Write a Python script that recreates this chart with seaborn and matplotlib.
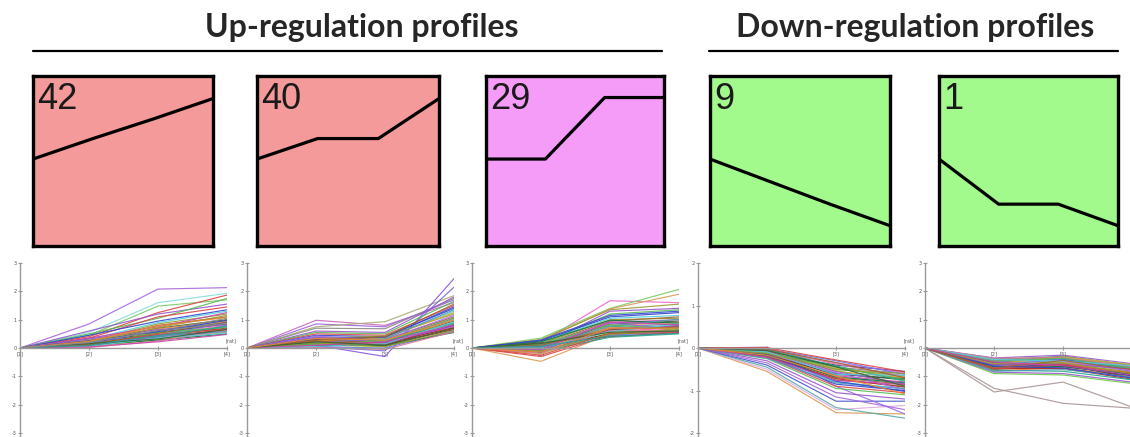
import matplotlib
matplotlib.use("Agg")
import matplotlib.pyplot as plt
from matplotlib.lines import Line2D
import pandas as pd
import seaborn as sns

# ---------------------------------------------------------------- data
group_titles = ["Up-regulation profiles", "Down-regulation profiles"]
profile_ids = ["42", "40", "29", "9", "1"]

# model profile of each cluster (4 time points)
model_42 = [0, 1, 1.95, 2.95]
model_40 = [0, 1, 1, 2.95]
model_29 = [0, 0, 3, 3]
model_9 = [0, -1.1, -2.2, -3.25]
model_1 = [0, -2.2, -2.2, -3.25]

time_labels = ["[1]", "[2]", "[3]", "[4]"]

# log ratios of member genes at time points 2..4 (time point 1 is 0)
genes_42 = [
    [0.85, 2.08, 2.13], [0.55, 1.60, 1.93], [0.45, 1.48, 1.70], [0.40, 1.25, 1.87],
    [0.60, 1.20, 1.55], [0.50, 1.05, 1.75], [0.35, 1.10, 1.45], [0.45, 0.95, 1.35],
    [0.30, 0.90, 1.30], [0.25, 0.85, 1.20], [0.20, 0.80, 1.10], [0.35, 0.75, 1.25],
    [0.15, 0.70, 1.00], [0.28, 0.68, 0.95], [0.10, 0.62, 0.90], [0.22, 0.60, 1.05],
    [0.18, 0.55, 0.85], [0.05, 0.50, 0.80], [0.30, 0.52, 0.75], [0.12, 0.45, 0.70],
    [0.25, 0.45, 0.90], [0.08, 0.40, 0.65], [0.15, 0.38, 0.78], [0.20, 0.35, 0.60],
    [0.05, 0.30, 0.55], [0.10, 0.28, 0.50], [0.02, 0.25, 0.62], [0.18, 0.42, 0.58],
    [0.32, 0.65, 0.82], [0.08, 0.55, 0.72], [0.14, 0.48, 0.68], [0.26, 0.58, 0.98],
    [0.06, 0.35, 0.52], [0.22, 0.72, 1.15], [0.12, 0.52, 0.92], [0.04, 0.22, 0.48],
    [0.16, 0.32, 0.66], [0.24, 0.78, 1.08], [0.09, 0.44, 0.76], [0.19, 0.62, 0.86],
]
genes_40 = [
    [0.98, 0.80, 1.60], [0.85, 0.75, 1.70], [0.75, 0.93, 1.85], [0.70, 0.68, 1.75],
    [0.10, -0.30, 2.45], [0.05, -0.10, 2.15], [0.60, 0.55, 1.80], [0.55, 0.50, 1.65],
    [0.50, 0.45, 1.50], [0.45, 0.40, 1.40], [0.40, 0.35, 1.30], [0.35, 0.42, 1.20],
    [0.30, 0.30, 1.10], [0.28, 0.25, 1.05], [0.25, 0.20, 0.95], [0.22, 0.28, 0.90],
    [0.20, 0.15, 0.85], [0.18, 0.22, 1.00], [0.15, 0.10, 0.80], [0.12, 0.18, 0.75],
    [0.10, 0.05, 0.70], [0.08, 0.12, 0.65], [0.05, 0.00, 0.60], [0.30, 0.18, 0.72],
    [0.35, 0.25, 0.88], [0.42, 0.30, 1.15], [0.26, 0.35, 1.25], [0.16, 0.08, 0.55],
    [0.02, -0.05, 0.58], [0.20, 0.32, 1.35], [0.38, 0.20, 0.78], [0.14, 0.26, 1.05],
    [0.24, 0.12, 0.68], [0.32, 0.38, 1.45], [0.06, 0.15, 0.92], [0.18, 0.05, 0.62],
    [0.28, 0.40, 1.55], [0.10, 0.22, 0.82], [0.22, 0.10, 0.70], [0.34, 0.28, 0.98],
]
genes_29 = [
    [0.20, 1.67, 1.60], [0.35, 1.40, 2.07], [0.25, 1.38, 1.90], [-0.47, 0.50, 0.80],
    [0.30, 1.35, 1.55], [0.10, 1.30, 1.40], [0.15, 1.20, 1.35], [-0.30, 0.45, 0.70],
    [0.25, 1.10, 1.25], [0.20, 1.05, 1.15], [0.15, 1.00, 1.05], [0.10, 0.95, 1.10],
    [0.05, 0.90, 1.00], [0.00, 0.85, 0.95], [-0.05, 0.80, 0.90], [-0.10, 0.75, 0.85],
    [0.12, 0.70, 0.80], [-0.15, 0.65, 0.75], [0.08, 0.60, 0.70], [-0.20, 0.55, 0.65],
    [0.02, 0.50, 0.62], [-0.08, 0.45, 0.58], [0.18, 0.40, 0.55], [-0.12, 0.38, 0.50],
    [0.06, 0.88, 0.68], [-0.02, 0.72, 0.72], [0.22, 0.98, 0.88], [-0.18, 0.62, 0.60],
    [0.04, 0.78, 1.02], [-0.06, 0.68, 0.78], [0.14, 0.82, 0.66], [-0.25, 0.52, 0.54],
    [0.28, 1.15, 1.30], [0.00, 0.58, 0.85], [-0.10, 0.48, 0.64], [0.10, 0.66, 0.74],
    [-0.04, 0.92, 0.82], [0.16, 0.56, 0.60], [-0.14, 0.70, 0.70], [0.06, 0.42, 0.52],
]
genes_9 = [
    [-0.55, -1.52, -1.55], [-0.50, -1.45, -1.35], [-0.45, -1.40, -1.65], [-0.40, -1.25, -1.25],
    [-0.35, -1.15, -1.45], [0.02, -0.90, -1.55], [-0.30, -1.05, -1.20], [-0.25, -0.95, -1.10],
    [-0.22, -0.90, -1.05], [-0.20, -0.85, -1.00], [-0.18, -0.80, -0.95], [-0.15, -0.75, -0.90],
    [-0.12, -0.70, -0.85], [-0.10, -0.65, -0.80], [-0.08, -0.60, -0.75], [-0.05, -0.55, -0.70],
    [-0.03, -0.50, -0.65], [0.00, -0.45, -0.60], [-0.14, -0.40, -0.55], [-0.06, -0.35, -0.58],
    [-0.10, -0.52, -0.88], [-0.16, -0.62, -0.72], [-0.02, -0.30, -0.62], [-0.20, -0.72, -0.92],
    [-0.04, -0.42, -0.78], [-0.12, -0.58, -0.98], [-0.08, -0.48, -0.68], [-0.18, -0.68, -0.82],
    [-0.01, -0.38, -0.66], [-0.24, -0.82, -0.96], [-0.07, -0.55, -0.85], [-0.11, -0.45, -0.74],
    [0.01, -0.28, -0.56], [-0.15, -0.78, -1.02], [-0.09, -0.62, -0.64], [-0.13, -0.50, -0.60],
    [-0.03, -0.34, -0.70], [-0.21, -0.76, -0.86], [-0.06, -0.44, -0.90], [-0.17, -0.66, -1.08],
]
genes_1 = [
    [-1.42, -1.95, -2.12], [-1.55, -1.20, -2.08], [-0.90, -0.95, -1.25], [-0.85, -0.90, -1.20],
    [-0.35, -0.25, -0.55], [-0.40, -0.30, -0.60], [-0.45, -0.35, -0.65], [-0.50, -0.40, -0.70],
    [-0.55, -0.45, -0.75], [-0.60, -0.50, -0.80], [-0.65, -0.55, -0.85], [-0.70, -0.60, -0.90],
    [-0.75, -0.65, -0.95], [-0.80, -0.70, -1.00], [-0.38, -0.42, -0.72], [-0.48, -0.28, -0.62],
    [-0.58, -0.62, -0.98], [-0.68, -0.48, -0.78], [-0.42, -0.52, -0.88], [-0.52, -0.58, -1.05],
    [-0.62, -0.38, -0.68], [-0.72, -0.72, -1.10], [-0.78, -0.82, -1.12], [-0.45, -0.44, -0.82],
    [-0.55, -0.32, -0.58], [-0.66, -0.66, -0.92], [-0.36, -0.34, -0.66], [-0.82, -0.76, -1.02],
    [-0.60, -0.56, -0.74], [-0.46, -0.36, -0.70], [-0.74, -0.58, -0.88], [-0.64, -0.70, -1.06],
    [-0.40, -0.46, -0.62], [-0.56, -0.52, -0.90], [-0.70, -0.44, -0.76], [-0.50, -0.62, -0.96],
]

models = [model_42, model_40, model_29, model_9, model_1]
gene_sets = [genes_42, genes_40, genes_29, genes_9, genes_1]
y_ranges = [3, 3, 3, 2, 3]

# ---------------------------------------------------------------- style
box_colors = ["#F59A9A", "#F59A9A", "#F59BF8", "#A3FA8C", "#A3FA8C"]
line_colors = [
    "#9955CC", "#55BB55", "#DD4444", "#3344CC", "#55CCDD", "#999933", "#996633",
    "#CC44AA", "#336633", "#EE8833", "#339999", "#888888", "#222288", "#EE66CC",
    "#AACC33", "#444444", "#6677EE", "#BB2222", "#22AA88", "#AA66EE", "#CCAA33",
    "#117744", "#DD7799", "#5599BB",
]
# first colours used in each gene panel
panel_lead_colors = [
    ["#AA66DD", "#88DDDD", "#77CC66", "#DD4444"],
    ["#CC66BB", "#9966DD", "#AAAA77", "#888888", "#8855DD", "#7766DD"],
    ["#EE66CC", "#77CC66", "#DD9955", "#DD9955", "#999933"],
    ["#DD9955", "#DDAADD", "#55AAAA", "#4455CC", "#AA66DD", "#9966EE"],
    ["#A89494", "#A89494", "#66CC44", "#9955CC"],
]

sns.set_theme(style="white")
plt.rcParams["font.family"] = ["DejaVu Sans"]

W, H = 1130, 437
fig = plt.figure(figsize=(W / 100, H / 100), dpi=100)


def px_axes(left, top, width, height):
    return fig.add_axes([left / W, 1 - (top + height) / H, width / W, height / H])


# group headings with rules underneath
for text, cx, x0, x1 in [(group_titles[0], 362, 33, 662), (group_titles[1], 915, 709, 1118)]:
    fig.text(cx / W, 1 - 37 / H, text, ha="center", va="baseline",
             fontsize=23, fontweight="bold", family=["Lato", "DejaVu Sans"])
    fig.add_artist(Line2D([x0 / W, x1 / W], [1 - 51 / H] * 2, color="black", lw=1.6))

# cluster model boxes
box_lefts = [33, 257, 486, 710, 939]
box_widths = [180, 182, 178, 180, 179]
for left, width, pid, model, color in zip(box_lefts, box_widths, profile_ids, models, box_colors):
    ax = px_axes(left, 76, width, 170)
    ax.set_facecolor(color)
    dfm = pd.DataFrame({"time": range(4), "value": model})
    sns.lineplot(data=dfm, x="time", y="value", color="black", linewidth=2.3, ax=ax)
    ax.set_xlim(0, 3)
    ax.set_ylim(-4.24, 4.05)
    ax.set_xticks([])
    ax.set_yticks([])
    ax.set_xlabel("")
    ax.set_ylabel("")
    for sp in ax.spines.values():
        sp.set_visible(True)
        sp.set_color("black")
        sp.set_linewidth(2.4)
    ax.text(0.025, 0.965, pid, transform=ax.transAxes, ha="left", va="top",
            fontsize=26, color="#1a1a1a", family=["Liberation Sans", "DejaVu Sans"])

# member gene profiles
plot_lefts = [20, 247, 472, 698, 925]
n_panels = len(plot_lefts)
for k, (left, genes, yr, lead) in enumerate(zip(plot_lefts, gene_sets, y_ranges, panel_lead_colors)):
    last = k == n_panels - 1
    ax = px_axes(left, 263, 207, 174)
    records = []
    for g, row in enumerate(genes):
        for t, v in enumerate([0.0] + list(row)):
            records.append((f"g{g:03d}", t, v))
    df = pd.DataFrame(records, columns=["gene", "time", "value"])
    pal = lead + [line_colors[i % len(line_colors)] for i in range(len(genes) - len(lead))]
    sns.lineplot(data=df, x="time", y="value", hue="gene", palette=pal,
                 estimator=None, legend=False, linewidth=0.85, alpha=0.9, ax=ax)
    ax.set_xlim(0, 3)
    # the top tick sits at the top edge; the lowest tick just above the bottom edge
    ax.set_ylim(-yr * 1.046, yr)
    ax.set_xlabel("")
    ax.set_ylabel("")
    ax.set_facecolor("none")
    for side in ("top", "right"):
        ax.spines[side].set_visible(False)
    ax.spines["bottom"].set_position(("data", 0))
    for side in ("left", "bottom"):
        ax.spines[side].set_color("#999999")
        ax.spines[side].set_linewidth(1.0)
    ax.set_yticks(range(-yr, yr + 1))
    ax.set_yticklabels([str(v) for v in range(-yr, yr + 1)])
    # the right-most panel runs to the figure edge, so its last time label falls outside
    shown = time_labels[:-1] + [""] if last else time_labels
    ax.set_xticks(range(4))
    ax.set_xticklabels(shown)
    ax.tick_params(axis="both", labelsize=3.5, labelcolor="#555555", color="#999999",
                   length=3, width=0.8, pad=1, left=True, bottom=True, direction="inout")
    if not last:
        ax.text(2.98, 0.06 * yr, "[rat]", fontsize=3.5, color="#555555",
                ha="left", va="bottom", clip_on=False)

fig.savefig("out.png", dpi=100)
